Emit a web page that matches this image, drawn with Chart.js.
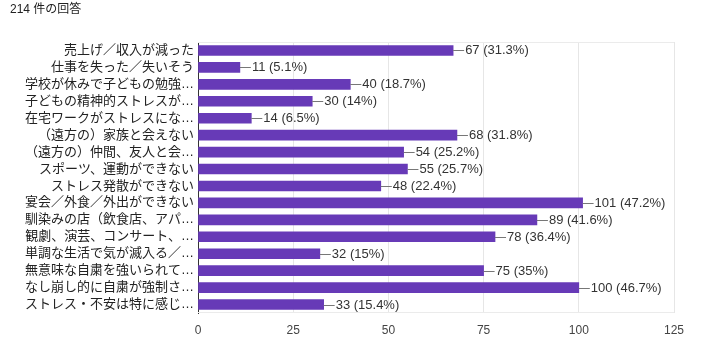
<!DOCTYPE html>
<html>
<head>
<meta charset="utf-8">
<script src="https://cdn.jsdelivr.net/npm/chart.js@4"></script>
<style>
  body { margin: 0; background: #fff; }
  #wrap { position: relative; width: 711px; height: 345px; }
</style>
</head>
<body>
<div id="wrap"><canvas id="myChart" width="711" height="345"></canvas></div>
<script>
// datos
const titulo = '214 件の回答';
const categorias = [
  '売上げ／収入が減った',
  '仕事を失った／失いそう',
  '学校が休みで子どもの勉強…',
  '子どもの精神的ストレスが…',
  '在宅ワークがストレスにな…',
  '（遠方の）家族と会えない',
  '（遠方の）仲間、友人と会…',
  'スポーツ、運動ができない',
  'ストレス発散ができない',
  '宴会／外食／外出ができない',
  '馴染みの店（飲食店、アパ…',
  '観劇、演芸、コンサート、…',
  '単調な生活で気が滅入る／…',
  '無意味な自粛を強いられて…',
  'なし崩し的に自粛が強制さ…',
  'ストレス・不安は特に感じ…'
];
const valores = [67, 11, 40, 30, 14, 68, 54, 55, 48, 101, 89, 78, 32, 75, 100, 33];
const porcentajes = ['31.3%', '5.1%', '18.7%', '14%', '6.5%', '31.8%', '25.2%', '25.7%', '22.4%', '47.2%', '41.6%', '36.4%', '15%', '35%', '46.7%', '15.4%'];
const ticksX = [0, 25, 50, 75, 100, 125];

const fuente = "Arial, 'Liberation Sans', 'Noto Sans CJK JP', sans-serif";

// titulo arriba a la izquierda
const pluginTitulo = {
  id: 'titulo',
  afterDraw(chart) {
    const ctx = chart.ctx;
    ctx.save();
    ctx.font = '12px ' + fuente;
    ctx.fillStyle = '#222';
    ctx.textBaseline = 'middle';
    ctx.fillText(titulo, 10, 10);
    ctx.restore();
  }
};

// marco suave del area del grafico
const pluginMarco = {
  id: 'marco',
  beforeDatasetsDraw(chart) {
    const a = chart.chartArea;
    const ctx = chart.ctx;
    ctx.save();
    ctx.strokeStyle = '#ebebeb';
    ctx.lineWidth = 1;
    ctx.beginPath();
    ctx.moveTo(a.left, a.top + 0.5);
    ctx.lineTo(a.right, a.top + 0.5);
    ctx.moveTo(a.left, a.bottom - 0.5);
    ctx.lineTo(a.right, a.bottom - 0.5);
    ctx.stroke();
    ctx.restore();
  }
};

// etiquetas con linea guia: "—67 (31.3%)"
const pluginEtiquetas = {
  id: 'etiquetas',
  afterDatasetsDraw(chart) {
    const ctx = chart.ctx;
    const meta = chart.getDatasetMeta(0);
    ctx.save();
    ctx.font = '13px ' + fuente;
    ctx.textBaseline = 'middle';
    meta.data.forEach((bar, i) => {
      const y = Math.round(bar.y) + 0.5;
      ctx.strokeStyle = '#777';
      ctx.lineWidth = 1;
      ctx.beginPath();
      ctx.moveTo(bar.x, y);
      ctx.lineTo(bar.x + 11, y);
      ctx.stroke();
      ctx.fillStyle = '#333';
      ctx.fillText(valores[i] + ' (' + porcentajes[i] + ')', bar.x + 12, y);
    });
    ctx.restore();
  }
};

const ctx = document.getElementById('myChart').getContext('2d');
const myChart = new Chart(ctx, {
  type: 'bar',
  data: {
    labels: categorias,
    datasets: [{
      data: valores,
      backgroundColor: '#673ab7',
      borderWidth: 0,
      barThickness: 10
    }]
  },
  options: {
    indexAxis: 'y',
    responsive: false,
    animation: false,
    devicePixelRatio: 1,
    layout: { padding: { left: 0, top: 42, right: 37, bottom: 0 } },
    plugins: {
      legend: { display: false },
      tooltip: { enabled: false }
    },
    scales: {
      x: {
        min: 0,
        max: 125,
        afterBuildTicks: scale => { scale.ticks = ticksX.map(v => ({ value: v })); },
        afterFit: scale => { scale.height = 32; },
        grid: { color: '#e6e6e6', drawTicks: false },
        border: { display: false },
        ticks: { color: '#444', font: { size: 12, family: fuente }, padding: 10 }
      },
      y: {
        afterFit: scale => { scale.width = 198; },
        grid: { display: false, drawTicks: false },
        border: { color: '#333', width: 1 },
        ticks: { color: '#222', font: { size: 13, family: fuente }, padding: 4, autoSkip: false }
      }
    }
  },
  plugins: [pluginTitulo, pluginMarco, pluginEtiquetas]
});
</script>
</body>
</html>
